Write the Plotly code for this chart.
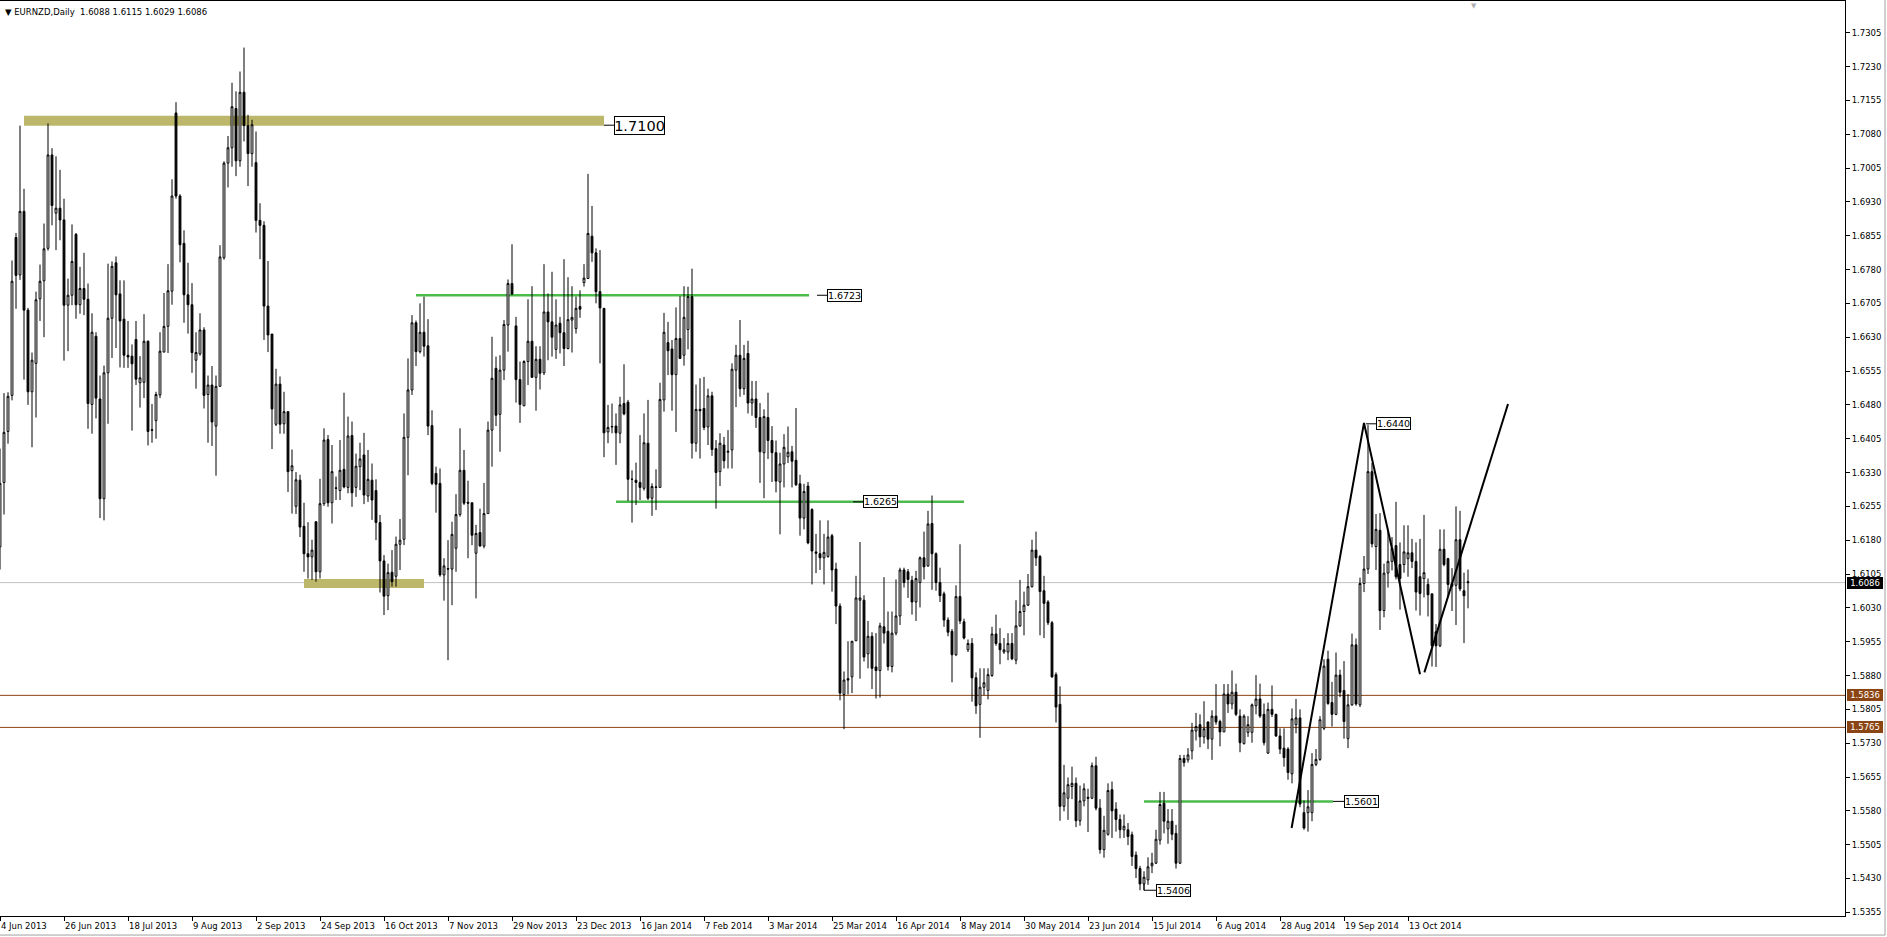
import plotly.graph_objects as go

# ---------------- daily OHLC (EURNZD, 4 Jun 2013 .. 3 Nov 2014) ----------------
open_ = [
 1.6165,1.6308,1.6421,1.6501,1.6851,1.6768,1.6909,1.6690,1.6509,1.6572,
 1.6715,1.6755,1.6827,1.7034,1.6905,1.6916,1.6890,1.6701,1.6723,1.6858,
 1.6702,1.6738,1.6714,1.6481,1.6632,1.6493,1.6272,1.6551,1.6672,1.6795,
 1.6726,1.6670,1.6590,1.6588,1.6625,1.6529,1.6530,1.6621,1.6425,1.6445,
 1.6502,1.6597,1.6654,1.6732,1.7127,1.6943,1.6838,1.6724,1.6702,1.6579,
 1.6593,1.6646,1.6503,1.6524,1.6433,1.6521,1.6806,1.7016,1.7050,1.7137,
 1.7021,1.7173,1.7099,1.7037,1.7017,1.6889,1.6878,1.6699,1.6637,1.6437,
 1.6526,1.6438,1.6465,1.6334,1.6255,1.6313,1.6211,1.6150,1.6143,1.6221,
 1.6110,1.6261,1.6403,1.6263,1.6296,1.6290,1.6337,1.6297,1.6412,1.6297,
 1.6343,1.6369,1.6278,1.6313,1.6290,1.6219,1.6134,1.6057,1.6109,1.6100,
 1.6171,1.6182,1.6408,1.6513,1.6662,1.6598,1.6641,1.6611,1.6434,1.6328,
 1.6306,1.6103,1.6117,1.6116,1.6162,1.6237,1.6335,1.6264,1.6263,1.6151,
 1.6197,1.6167,1.6239,1.6424,1.6561,1.6459,1.6557,1.6657,1.6749,1.6655,
 1.6536,1.6478,1.6576,1.6621,1.6541,1.6581,1.6551,1.6686,1.6664,1.6603,
 1.6661,1.6640,1.6605,1.6668,1.6649,1.6698,1.6751,1.6760,1.6854,1.6817,
 1.6731,1.6694,1.6420,1.6431,1.6433,1.6417,1.6483,1.6486,1.6315,1.6313,
 1.6308,1.6295,1.6395,1.6273,1.6297,1.6297,1.6491,1.6618,1.6604,1.6547,
 1.6627,1.6590,1.6647,1.6720,1.6395,1.6470,1.6472,1.6431,1.6500,1.6383,
 1.6332,1.6391,1.6375,1.6380,1.6557,1.6590,1.6516,1.6594,1.6484,1.6493,
 1.6452,1.6374,1.6452,1.6401,1.6374,1.6309,1.6349,1.6365,1.6376,1.6357,
 1.6305,1.6229,1.6300,1.6248,1.6154,1.6150,1.6141,1.6144,1.6190,1.6116,
 1.6034,1.5838,1.5873,1.5877,1.5957,1.6047,1.6047,1.5928,1.5967,1.5899,
 1.5891,1.5988,1.5978,1.5900,1.5974,1.6012,1.6114,1.6110,1.6091,1.6043,
 1.6086,1.6141,1.6123,1.6217,1.6150,1.6086,1.6061,1.6003,1.5978,1.5926,
 1.6055,1.5999,1.5937,1.5951,1.5875,1.5816,1.5854,1.5847,1.5880,1.5972,
 1.5951,1.5932,1.5932,1.5951,1.5914,1.5990,1.6022,1.6036,1.6077,1.6158,
 1.6144,1.6068,1.6043,1.5997,1.5882,1.5816,1.5590,1.5608,1.5634,1.5641,
 1.5558,1.5602,1.5610,1.5608,1.5680,1.5586,1.5494,1.5528,1.5627,1.5584,
 1.5561,1.5538,1.5538,1.5527,1.5482,1.5452,1.5418,1.5427,1.5458,1.5464,
 1.5515,1.5597,1.5540,1.5557,1.5530,1.5464,1.5696,1.5693,1.5713,1.5757,
 1.5771,1.5744,1.5777,1.5739,1.5790,1.5778,1.5755,1.5839,1.5817,1.5843,
 1.5790,1.5729,1.5754,1.5754,1.5813,1.5828,1.5794,1.5708,1.5805,1.5794,
 1.5746,1.5719,1.5717,1.5662,1.5771,1.5786,1.5576,1.5576,1.5576,1.5683,
 1.5694,1.5763,1.5916,1.5820,1.5794,1.5881,1.5847,1.5740,1.5815,1.5948,
 1.5815,1.6084,1.6116,1.6332,1.6166,1.6202,1.6024,1.6107,1.6133,1.6168,
 1.6126,1.6126,1.6139,1.6152,1.6133,1.6099,1.6095,1.6082,1.6061,1.5977,
 1.5946,1.6160,1.6139,1.6084,1.6080,1.6181,1.6068,1.6088,
]
high = [
 1.6383,1.6506,1.6508,1.6800,1.6861,1.7099,1.6959,1.6695,1.6596,1.6731,
 1.6791,1.6882,1.7104,1.7049,1.7031,1.7001,1.6937,1.6760,1.6880,1.6861,
 1.6786,1.6817,1.6749,1.6683,1.6641,1.6545,1.6567,1.6793,1.6798,1.6809,
 1.6756,1.6756,1.6666,1.6614,1.6666,1.6588,1.6681,1.6623,1.6482,1.6509,
 1.6641,1.6728,1.6792,1.6980,1.7151,1.6947,1.6867,1.6795,1.6750,1.6641,
 1.6683,1.6652,1.6545,1.6566,1.6545,1.6834,1.7020,1.7076,1.7194,1.7175,
 1.7219,1.7272,1.7123,1.7112,1.7086,1.6927,1.6887,1.6799,1.6637,1.6560,
 1.6543,1.6509,1.6465,1.6381,1.6331,1.6325,1.6263,1.6220,1.6181,1.6221,
 1.6316,1.6428,1.6413,1.6391,1.6321,1.6402,1.6507,1.6454,1.6443,1.6372,
 1.6396,1.6418,1.6380,1.6350,1.6315,1.6236,1.6147,1.6128,1.6158,1.6188,
 1.6227,1.6461,1.6583,1.6679,1.6667,1.6705,1.6720,1.6670,1.6468,1.6343,
 1.6339,1.6140,1.6180,1.6221,1.6282,1.6428,1.6380,1.6312,1.6263,1.6214,
 1.6250,1.6307,1.6443,1.6631,1.6587,1.6590,1.6668,1.6758,1.6836,1.6675,
 1.6576,1.6579,1.6714,1.6743,1.6610,1.6610,1.6792,1.6727,1.6775,1.6714,
 1.6675,1.6803,1.6763,1.6743,1.6720,1.6734,1.6792,1.6992,1.6921,1.6827,
 1.6823,1.6694,1.6480,1.6483,1.6461,1.6498,1.6570,1.6491,1.6335,1.6352,
 1.6413,1.6461,1.6491,1.6306,1.6337,1.6529,1.6684,1.6664,1.6624,1.6696,
 1.6721,1.6743,1.6742,1.6782,1.6525,1.6539,1.6542,1.6516,1.6509,1.6402,
 1.6417,1.6409,1.6424,1.6572,1.6613,1.6668,1.6613,1.6622,1.6533,1.6533,
 1.6484,1.6470,1.6507,1.6433,1.6401,1.6374,1.6415,1.6432,1.6389,1.6473,
 1.6325,1.6305,1.6309,1.6251,1.6194,1.6224,1.6194,1.6224,1.6194,1.6130,
 1.6040,1.5889,1.5956,1.5956,1.6101,1.6176,1.6058,1.6001,1.5976,1.5974,
 1.5997,1.6098,1.6022,1.6022,1.6093,1.6119,1.6119,1.6116,1.6101,1.6112,
 1.6144,1.6199,1.6245,1.6279,1.6153,1.6119,1.6066,1.6009,1.5983,1.6080,
 1.6171,1.6006,1.5960,1.5963,1.5887,1.5896,1.5896,1.5896,1.5988,1.6015,
 1.5985,1.5963,1.5974,1.5974,1.6047,1.6092,1.6066,1.6105,1.6181,1.6199,
 1.6147,1.6101,1.6047,1.6001,1.5887,1.5856,1.5682,1.5654,1.5678,1.5654,
 1.5636,1.5641,1.5629,1.5687,1.5700,1.5606,1.5569,1.5641,1.5645,1.5599,
 1.5572,1.5572,1.5553,1.5534,1.5490,1.5458,1.5446,1.5477,1.5487,1.5538,
 1.5622,1.5622,1.5584,1.5584,1.5549,1.5704,1.5704,1.5719,1.5775,1.5797,
 1.5794,1.5823,1.5778,1.5803,1.5861,1.5782,1.5861,1.5861,1.5891,1.5862,
 1.5805,1.5794,1.5790,1.5818,1.5881,1.5862,1.5818,1.5820,1.5858,1.5795,
 1.5763,1.5763,1.5721,1.5807,1.5828,1.5805,1.5603,1.5626,1.5708,1.5717,
 1.5790,1.5916,1.5935,1.5866,1.5931,1.5893,1.5912,1.5839,1.5973,1.5962,
 1.6097,1.6145,1.6436,1.6351,1.6238,1.6240,1.6128,1.6204,1.6187,1.6265,
 1.6175,1.6213,1.6213,1.6183,1.6175,1.6183,1.6236,1.6095,1.6061,1.5994,
 1.6204,1.6204,1.6141,1.6118,1.6255,1.6245,1.6108,1.6115,
]
low = [
 1.6115,1.6237,1.6394,1.6490,1.6693,1.6757,1.6536,1.6480,1.6386,1.6452,
 1.6666,1.6630,1.6822,1.6878,1.6823,1.6845,1.6578,1.6599,1.6701,1.6671,
 1.6682,1.6679,1.6427,1.6416,1.6450,1.6229,1.6224,1.6438,1.6584,1.6606,
 1.6563,1.6562,1.6562,1.6423,1.6524,1.6474,1.6495,1.6390,1.6396,1.6405,
 1.6495,1.6597,1.6595,1.6702,1.6937,1.6796,1.6662,1.6638,1.6551,1.6516,
 1.6589,1.6472,1.6396,1.6389,1.6323,1.6521,1.6802,1.6962,1.7008,1.6987,
 1.7008,1.7064,1.6965,1.7008,1.6862,1.6803,1.6624,1.6597,1.6382,1.6433,
 1.6416,1.6416,1.6287,1.6239,1.6238,1.6187,1.6110,1.6095,1.6092,1.6088,
 1.6095,1.6256,1.6254,1.6217,1.6269,1.6269,1.6295,1.6284,1.6254,1.6276,
 1.6291,1.6260,1.6265,1.6225,1.6180,1.6064,1.6014,1.6025,1.6077,1.6077,
 1.6114,1.6169,1.6324,1.6502,1.6566,1.6594,1.6587,1.6413,1.6302,1.6241,
 1.6099,1.6046,1.5914,1.6036,1.6110,1.6232,1.6258,1.6140,1.6169,1.6051,
 1.6166,1.6162,1.6239,1.6343,1.6433,1.6376,1.6535,1.6598,1.6723,1.6485,
 1.6440,1.6477,1.6524,1.6541,1.6467,1.6514,1.6546,1.6579,1.6587,1.6582,
 1.6594,1.6566,1.6603,1.6596,1.6638,1.6673,1.6742,1.6760,1.6797,1.6705,
 1.6572,1.6364,1.6395,1.6417,1.6347,1.6395,1.6457,1.6267,1.6219,1.6258,
 1.6269,1.6290,1.6269,1.6234,1.6247,1.6297,1.6465,1.6546,1.6467,1.6420,
 1.6582,1.6567,1.6603,1.6361,1.6376,1.6361,1.6424,1.6391,1.6367,1.6250,
 1.6300,1.6339,1.6339,1.6339,1.6475,1.6498,1.6502,1.6461,1.6456,1.6429,
 1.6307,1.6273,1.6360,1.6309,1.6286,1.6193,1.6297,1.6351,1.6297,1.6300,
 1.6190,1.6204,1.6171,1.6082,1.6107,1.6114,1.6082,1.6141,1.6066,1.5994,
 1.5825,1.5761,1.5838,1.5841,1.5957,1.5873,1.5911,1.5896,1.5850,1.5829,
 1.5831,1.5951,1.5891,1.5887,1.5969,1.5992,1.6075,1.6052,1.6015,1.6001,
 1.6031,1.6093,1.6121,1.6070,1.6068,1.6043,1.5988,1.5967,1.5865,1.5923,
 1.5994,1.5960,1.5932,1.5822,1.5795,1.5742,1.5836,1.5827,1.5877,1.5946,
 1.5905,1.5928,1.5914,1.5914,1.5905,1.5988,1.5969,1.6034,1.6075,1.6123,
 1.5969,1.5963,1.5992,1.5875,1.5776,1.5558,1.5579,1.5560,1.5606,1.5544,
 1.5547,1.5590,1.5533,1.5606,1.5581,1.5485,1.5476,1.5525,1.5520,1.5534,
 1.5519,1.5520,1.5504,1.5458,1.5431,1.5404,1.5404,1.5416,1.5442,1.5462,
 1.5505,1.5530,1.5507,1.5515,1.5452,1.5462,1.5678,1.5687,1.5694,1.5736,
 1.5721,1.5729,1.5717,1.5693,1.5771,1.5723,1.5755,1.5797,1.5805,1.5790,
 1.5710,1.5727,1.5744,1.5731,1.5794,1.5786,1.5725,1.5706,1.5788,1.5744,
 1.5706,1.5678,1.5649,1.5641,1.5752,1.5588,1.5538,1.5534,1.5557,1.5679,
 1.5691,1.5759,1.5815,1.5767,1.5792,1.5832,1.5740,1.5719,1.5813,1.5813,
 1.5810,1.6065,1.6105,1.6164,1.6114,1.5981,1.6009,1.6075,1.6113,1.6093,
 1.6026,1.6108,1.6099,1.6118,1.6024,1.6013,1.6053,1.6011,1.5900,1.5899,
 1.5943,1.6122,1.6053,1.6023,1.5992,1.6067,1.5952,1.6029,
]
close = [
 1.6306,1.6419,1.6499,1.6754,1.6767,1.6909,1.6690,1.6509,1.6579,1.6713,
 1.6754,1.6826,1.7034,1.6922,1.6916,1.6890,1.6701,1.6723,1.6798,1.6702,
 1.6738,1.6714,1.6483,1.6641,1.6495,1.6272,1.6551,1.6672,1.6787,1.6724,
 1.6666,1.6590,1.6586,1.6571,1.6537,1.6540,1.6621,1.6421,1.6424,1.6503,
 1.6599,1.6654,1.6733,1.6943,1.6943,1.6835,1.6724,1.6702,1.6596,1.6596,
 1.6646,1.6501,1.6524,1.6442,1.6521,1.6808,1.7016,1.7050,1.7141,1.7021,
 1.7173,1.7099,1.7037,1.7101,1.6889,1.6878,1.6699,1.6635,1.6471,1.6526,
 1.6437,1.6465,1.6332,1.6345,1.6314,1.6209,1.6150,1.6143,1.6158,1.6110,
 1.6261,1.6402,1.6263,1.6332,1.6295,1.6335,1.6298,1.6411,1.6285,1.6344,
 1.6360,1.6280,1.6315,1.6269,1.6219,1.6134,1.6056,1.6108,1.6088,1.6171,
 1.6180,1.6408,1.6513,1.6662,1.6598,1.6641,1.6610,1.6433,1.6306,1.6304,
 1.6103,1.6123,1.6116,1.6193,1.6237,1.6335,1.6262,1.6262,1.6191,1.6195,
 1.6167,1.6239,1.6424,1.6539,1.6457,1.6557,1.6658,1.6749,1.6726,1.6536,
 1.6481,1.6576,1.6621,1.6541,1.6581,1.6550,1.6686,1.6664,1.6630,1.6657,
 1.6640,1.6605,1.6669,1.6674,1.6694,1.6692,1.6761,1.6860,1.6817,1.6731,
 1.6695,1.6418,1.6430,1.6432,1.6418,1.6480,1.6460,1.6315,1.6315,1.6308,
 1.6297,1.6396,1.6273,1.6299,1.6298,1.6492,1.6641,1.6600,1.6547,1.6627,
 1.6583,1.6674,1.6720,1.6395,1.6470,1.6467,1.6430,1.6500,1.6381,1.6330,
 1.6395,1.6356,1.6377,1.6559,1.6590,1.6516,1.6583,1.6484,1.6493,1.6452,
 1.6376,1.6454,1.6401,1.6374,1.6311,1.6349,1.6386,1.6375,1.6355,1.6303,
 1.6229,1.6288,1.6174,1.6156,1.6151,1.6141,1.6153,1.6187,1.6114,1.6034,
 1.5841,1.5870,1.5870,1.5956,1.6052,1.6052,1.5921,1.5967,1.5896,1.5891,
 1.5990,1.5974,1.5900,1.5974,1.6012,1.6114,1.6086,1.6093,1.6043,1.6095,
 1.6141,1.6121,1.6216,1.6150,1.6086,1.6057,1.6003,1.5976,1.5926,1.6055,
 1.6001,1.5963,1.5951,1.5875,1.5813,1.5854,1.5864,1.5882,1.5972,1.5951,
 1.5937,1.5937,1.5951,1.5917,1.5990,1.6022,1.6036,1.6077,1.6158,1.6141,
 1.6066,1.6040,1.5997,1.5877,1.5810,1.5590,1.5620,1.5638,1.5641,1.5558,
 1.5602,1.5629,1.5608,1.5680,1.5586,1.5494,1.5537,1.5625,1.5580,1.5561,
 1.5538,1.5546,1.5523,1.5479,1.5452,1.5418,1.5433,1.5456,1.5464,1.5517,
 1.5594,1.5557,1.5557,1.5528,1.5464,1.5696,1.5687,1.5704,1.5759,1.5767,
 1.5744,1.5762,1.5739,1.5790,1.5777,1.5755,1.5839,1.5817,1.5843,1.5794,
 1.5731,1.5790,1.5771,1.5815,1.5828,1.5790,1.5731,1.5805,1.5794,1.5746,
 1.5717,1.5698,1.5665,1.5784,1.5786,1.5595,1.5542,1.5589,1.5683,1.5694,
 1.5782,1.5901,1.5818,1.5794,1.5881,1.5843,1.5778,1.5815,1.5948,1.5817,
 1.6084,1.6116,1.6332,1.6172,1.6204,1.6024,1.6107,1.6133,1.6162,1.6099,
 1.6095,1.6154,1.6152,1.6133,1.6065,1.6062,1.6108,1.6059,1.5946,1.5946,
 1.6160,1.6126,1.6082,1.6078,1.6181,1.6072,1.6057,1.6086,
]
n_bars = len(close)
assert len(open_) == len(high) == len(low) == n_bars

# bottom-axis date labels and the bar they sit on
date_label_bars = [0, 16, 32, 48, 64, 80, 96, 112, 128, 144, 160, 176,
                   192, 208, 224, 240, 256, 272, 288, 304, 320, 336, 352]
date_labels = ["4 Jun 2013", "26 Jun 2013", "18 Jul 2013", "9 Aug 2013", "2 Sep 2013",
               "24 Sep 2013", "16 Oct 2013", "7 Nov 2013", "29 Nov 2013", "23 Dec 2013",
               "16 Jan 2014", "7 Feb 2014", "3 Mar 2014", "25 Mar 2014", "16 Apr 2014",
               "8 May 2014", "30 May 2014", "23 Jun 2014", "15 Jul 2014", "6 Aug 2014",
               "28 Aug 2014", "19 Sep 2014", "13 Oct 2014"]

# right price scale
price_ticks = [1.5355, 1.5430, 1.5505, 1.5580, 1.5655, 1.5730, 1.5805, 1.5880, 1.5955,
               1.6030, 1.6105, 1.6180, 1.6255, 1.6330, 1.6405, 1.6480, 1.6555, 1.6630,
               1.6705, 1.6780, 1.6855, 1.6930, 1.7005, 1.7080, 1.7155, 1.7230, 1.7305]
price_tick_text = ["1.5355", "1.5430", "1.5505", "1.5580", "1.5655", "1.5730", "1.5805",
                   "1.5880", "1.5955", "1.6030", "1.6105", "1.6180", "1.6255", "1.6330",
                   "1.6405", "1.6480", "1.6555", "1.6630", "1.6705", "1.6780", "1.6855",
                   "1.6930", "1.7005", "1.7080", "1.7155", "1.7230", "1.7305"]

# chart objects (bar index, price)
khaki_zones = [(6, 151, 1.7099, 1.7121), (76, 106, 1.6074, 1.6094)]
green_levels = [(104, 202.25, 1.6723), (154, 241, 1.6265), (286, 333.25, 1.5601)]
zigzag_a_bars = [322.9, 341, 355]
zigzag_a_prices = [1.5542, 1.6440, 1.5883]
zigzag_b_bars = [356.1, 377]
zigzag_b_prices = [1.5887, 1.6482]
bid_price = 1.6086
brown_levels = [1.5836, 1.5765]

KHAKI = "#BDB76B"
GREEN = "#4CBB4C"
BROWN = "#8B4513"
FONT = "DejaVu Sans"

fig = go.Figure()
fig.add_trace(go.Candlestick(
    x=list(range(n_bars)), open=open_, high=high, low=low, close=close,
    increasing=dict(line=dict(color="black", width=1), fillcolor="white"),
    decreasing=dict(line=dict(color="black", width=1), fillcolor="black"),
    whiskerwidth=0, hoverinfo="skip", showlegend=False))

for xs, ys in [(zigzag_a_bars, zigzag_a_prices), (zigzag_b_bars, zigzag_b_prices)]:
    fig.add_trace(go.Scatter(x=xs, y=ys, mode="lines", line=dict(color="black", width=2),
                             hoverinfo="skip", showlegend=False, cliponaxis=True))

shapes = []
for x0, x1, y0, y1 in khaki_zones:
    shapes.append(dict(type="rect", xref="x", yref="y", x0=x0, x1=x1, y0=y0, y1=y1,
                       fillcolor=KHAKI, line=dict(width=0), layer="below"))
for x0, x1, y in green_levels:
    shapes.append(dict(type="line", xref="x", yref="y", x0=x0, x1=x1, y0=y, y1=y,
                       line=dict(color=GREEN, width=2.5), layer="below"))
shapes.append(dict(type="line", xref="paper", yref="y", x0=0, x1=1, y0=bid_price, y1=bid_price,
                   line=dict(color="#C0C0C0", width=1), layer="below"))
for y in brown_levels:
    shapes.append(dict(type="line", xref="paper", yref="y", x0=0, x1=1, y0=y, y1=y,
                       line=dict(color=BROWN, width=1), layer="below"))

annotations = []

def price_label(x_line0, x_box, y, text, size=9.5, w=33, h=11):
    shapes.append(dict(type="line", xref="x", yref="y", x0=x_line0, x1=x_box, y0=y, y1=y,
                       line=dict(color="black", width=1)))
    annotations.append(dict(xref="x", yref="y", x=x_box, y=y, text=text, showarrow=False,
                            xanchor="left", yanchor="middle", width=w, height=h,
                            bgcolor="white", bordercolor="black", borderwidth=1, borderpad=0,
                            font=dict(family=FONT, size=size, color="black")))

price_label(151, 153.5, 1.7100, "1.7100", size=14.5, w=49, h=17)
price_label(204.25, 206.75, 1.6723, "1.6723")
price_label(213.25, 215.75, 1.6265, "1.6265")
price_label(333.25, 336, 1.5601, "1.5601")
price_label(341.5, 344, 1.6438, "1.6440")
shapes.append(dict(type="line", xref="x", yref="y", x0=286, x1=286, y0=1.5418, y1=1.5404,
                   line=dict(color="black", width=1)))
price_label(286, 289, 1.5404, "1.5406")

# right-scale price boxes
for y, txt, bg in [(bid_price, "1.6086", "black"), (1.5836, "1.5836", BROWN), (1.5765, "1.5765", BROWN)]:
    annotations.append(dict(xref="paper", yref="y", x=1, y=y, xshift=2, text=txt, showarrow=False,
                            xanchor="left", yanchor="middle", width=34, height=10,
                            bgcolor=bg, bordercolor=bg, borderwidth=1, borderpad=0,
                            font=dict(family=FONT, size=8.5, color="white")))

# date labels
for b, t in zip(date_label_bars, date_labels):
    annotations.append(dict(xref="x", yref="paper", x=b, y=0, yshift=-3, xshift=-1, text=t,
                            showarrow=False, xanchor="left", yanchor="top",
                            font=dict(family=FONT, size=8.5, color="black")))

# header
annotations.append(dict(xref="paper", yref="paper", x=0, y=1, xshift=3, yshift=-4,
                        text="\u25BC EURNZD,Daily  1.6088 1.6115 1.6029 1.6086",
                        showarrow=False, xanchor="left", yanchor="top",
                        font=dict(family=FONT, size=8.5, color="black")))
annotations.append(dict(xref="paper", yref="paper", x=1474 / 1845, y=1, yshift=1,
                        text="\u25BC", showarrow=False, xanchor="center", yanchor="top",
                        font=dict(family=FONT, size=7, color="#B0B0B0")))

# window frame outside the plot
shapes.append(dict(type="line", xref="paper", yref="paper", x0=1885 / 1845, x1=1885 / 1845,
                   y0=-0.0208, y1=1.001, line=dict(color="#A0A0A0", width=1)))
shapes.append(dict(type="line", xref="paper", yref="paper", x0=0, x1=1885 / 1845,
                   y0=-0.0208, y1=-0.0208, line=dict(color="#A0A0A0", width=1)))

fig.update_layout(
    width=1887, height=937,
    margin=dict(l=0, r=42, t=1, b=21, pad=0),
    paper_bgcolor="white", plot_bgcolor="white",
    showlegend=False, boxgap=0.35,
    shapes=shapes, annotations=annotations,
    xaxis=dict(range=[0, 461.25], showgrid=False, zeroline=False, showline=True,
               linecolor="black", linewidth=1, mirror=True, ticks="outside", ticklen=4,
               tickcolor="black", tickvals=date_label_bars, showticklabels=False,
               rangeslider=dict(visible=False), fixedrange=True),
    yaxis=dict(range=[1.53469, 1.73753], side="right", showgrid=False, zeroline=False,
               showline=True, linecolor="black", linewidth=1, mirror=True,
               ticks="outside", ticklen=4, tickcolor="black", tickmode="array",
               tickvals=price_ticks, ticktext=price_tick_text,
               tickfont=dict(family=FONT, size=8.5, color="black"), fixedrange=True),
)

fig.write_html("out.html",
               config={"displayModeBar": False, "staticPlot": True},
               post_script="document.body.style.margin='0';document.body.style.padding='0';"
                           "document.body.style.overflow='hidden';"
                           "document.documentElement.style.overflow='hidden';")
